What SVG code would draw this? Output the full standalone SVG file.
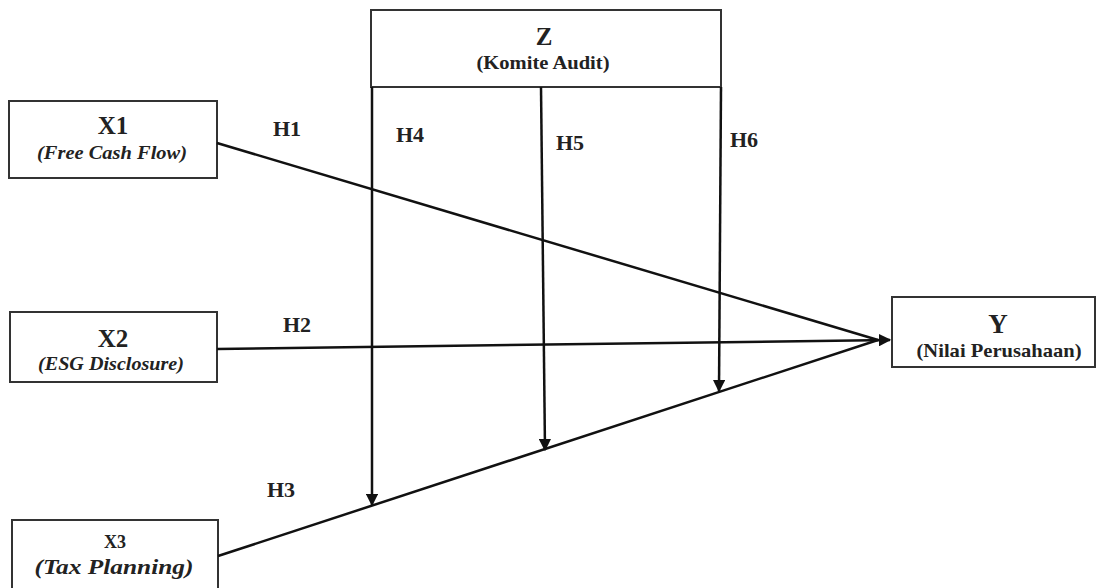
<svg xmlns="http://www.w3.org/2000/svg" width="1102" height="588" viewBox="0 0 1102 588">
<style>
.box{fill:#fff;stroke:#333;stroke-width:2}
.t{font-family:"Liberation Serif",serif;font-weight:bold;fill:#222;text-anchor:middle}
.big{font-size:25px}
.sub{font-size:19px}
.it{font-style:italic}
.h{font-family:"Liberation Serif",serif;font-weight:bold;font-size:22px;fill:#222}
.ln{stroke:#111;stroke-width:2.5;fill:none}
</style>
<defs>
<marker id="ah" viewBox="0 0 10 10" refX="9" refY="5" markerWidth="5" markerHeight="5" orient="auto" markerUnits="strokeWidth">
<path d="M0,0 L10,5 L0,10 z" fill="#111"/>
</marker>
</defs>
<g id="Z">
<rect class="box" x="371" y="10" width="350" height="77"/>
<text class="t" style="font-size:25px" x="544" y="45">Z</text>
<text class="t sub" x="543" y="69" textLength="133" lengthAdjust="spacingAndGlyphs">(Komite Audit)</text>
</g>
<g id="X1">
<rect class="box" x="9" y="101" width="208" height="77"/>
<text class="t big" x="113" y="134">X1</text>
<text class="t sub it" x="112" y="159" textLength="150" lengthAdjust="spacingAndGlyphs">(Free Cash Flow)</text>
</g>
<g id="X2">
<rect class="box" x="10" y="312" width="207" height="70"/>
<text class="t big" x="113" y="347">X2</text>
<text class="t sub it" x="111" y="370" textLength="146" lengthAdjust="spacingAndGlyphs">(ESG Disclosure)</text>
</g>
<g id="X3">
<rect class="box" x="12" y="520" width="206" height="80"/>
<text class="t" style="font-size:18px" x="115" y="548">X3</text>
<text class="t it" style="font-size:20px" x="114" y="574" textLength="159" lengthAdjust="spacingAndGlyphs">(Tax Planning)</text>
</g>
<g id="Y">
<rect class="box" x="892" y="297" width="203" height="70"/>
<text class="t" style="font-size:27px" x="998" y="333">Y</text>
<text class="t sub" x="999" y="357" textLength="165" lengthAdjust="spacingAndGlyphs">(Nilai Perusahaan)</text>
</g>
<g id="connectors">
<line class="ln" x1="217" y1="143" x2="878" y2="340"/>
<line class="ln" x1="217" y1="349" x2="890" y2="340" marker-end="url(#ah)"/>
<line class="ln" x1="218" y1="556" x2="878" y2="340"/>
<line class="ln" x1="372" y1="87" x2="372" y2="505" marker-end="url(#ah)"/>
<line class="ln" x1="541" y1="87" x2="545" y2="450" marker-end="url(#ah)"/>
<line class="ln" x1="721" y1="87" x2="719" y2="391" marker-end="url(#ah)"/>
</g>
<g id="labels">
<text class="h" x="273" y="136">H1</text>
<text class="h" x="396" y="142">H4</text>
<text class="h" x="556" y="150">H5</text>
<text class="h" x="730" y="147">H6</text>
<text class="h" x="283" y="332">H2</text>
<text class="h" x="267" y="497">H3</text>
</g>
</svg>
